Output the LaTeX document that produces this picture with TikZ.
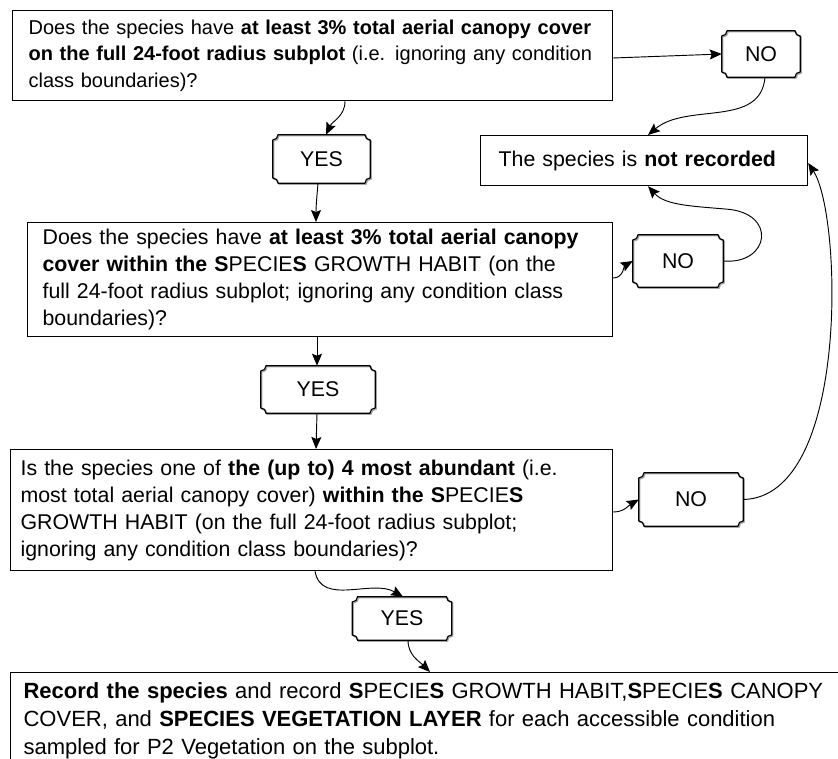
\documentclass[tikz,border=0pt]{standalone}
\usepackage{fontspec}
\setmainfont{Liberation Sans}
\usetikzlibrary{arrows.meta}

\tikzset{
	box/.style={draw, line width=0.9pt, anchor=north west, align=left, inner ysep=0pt, font=\fontsize{16}{20.25}\selectfont},
	tag/.style={inner sep=0pt, font=\fontsize{16}{20}\selectfont},
	tagline/.style={line width=0.9pt},
	tagshade/.style={line width=0.9pt, black!35, transform canvas={shift={(0.8pt,-0.8pt)}}},
	link/.style={line width=0.7pt, -{Stealth[length=9pt,width=7.5pt,inset=1.5pt]}},
}

\newcommand\species{\textbf{S}PECIE\textbf{S}}
\newcommand\tagoutline[2]{%
	\draw[#2] ([xshift=4pt]#1.north west) -- ([xshift=-4pt]#1.north east)
		arc[start angle=180,end angle=270,radius=4pt] -- ([yshift=4pt]#1.south east)
		arc[start angle=90,end angle=180,radius=4pt] -- ([xshift=4pt]#1.south west)
		arc[start angle=0,end angle=90,radius=4pt] -- ([yshift=-4pt]#1.north west)
		arc[start angle=270,end angle=360,radius=4pt] -- cycle;}

\begin{document}
\begin{tikzpicture}[x=0.75pt, y=0.75pt]
	\useasboundingbox (0,0) rectangle (838,-759);
	\clip (0,0) rectangle (838,-759);

	\node (q1) [box, font=\fontsize{15}{20}\selectfont, inner xsep=12pt, text width=426pt, minimum height=67.5pt] at (12,-10) {
		Does the species have \textbf{at least 3\% total aerial canopy cover}\\
		\textbf{on the full 24-foot radius subplot} (i.e. ignoring any condition\\
		class boundaries)?};
	\node (q2) [box, inner xsep=11.25pt, text width=416.25pt, minimum height=85.5pt] at (27,-222) {
		Does the species have \textbf{at least 3\% total aerial canopy}\\
		\textbf{cover within the} \species{} GROWTH HABIT (on the\\
		full 24-foot radius subplot; ignoring any condition class\\
		boundaries)?};
	\node (q3) [box, inner xsep=7.5pt, text width=436.5pt, minimum height=90.75pt] at (10,-449) {
		Is the species one of \textbf{the (up to) 4 most abundant} (i.e.\\
		most total aerial canopy cover) \textbf{within the} \species\\
		GROWTH HABIT (on the full 24-foot radius subplot;\\
		ignoring any condition class boundaries)?};
	\node (rec) [box, font=\fontsize{16.5}{21}\selectfont, inner xsep=9.75pt, text width=610pt, minimum height=72pt] at (10,-672) {
		\textbf{Record the species} and record \species{} GROWTH HABIT,\species{} CANOPY\\
		COVER, and \textbf{SPECIES VEGETATION LAYER} for each accessible condition\\
		sampled for P2 Vegetation on the subplot.};
	\node (skip) [box, inner xsep=13.5pt, text width=218.25pt, minimum height=37.5pt] at (480,-135) {
		The species is \textbf{not recorded}};

	\node (no1) [tag, minimum width=58.5pt, minimum height=34.5pt] at (761,-54) {NO};
	\node (yes1) [tag, minimum width=72.75pt, minimum height=36pt] at (321.5,-159) {YES};
	\node (no2) [tag, minimum width=67.5pt, minimum height=39pt] at (678,-261) {NO};
	\node (yes2) [tag, minimum width=85.5pt, minimum height=35.25pt] at (318,-389.5) {YES};
	\node (no3) [tag, minimum width=78pt, minimum height=39.75pt] at (691,-499.5) {NO};
	\node (yes3) [tag, minimum width=74.25pt, minimum height=32.25pt] at (402,-618.5) {YES};

	\foreach \t in {no1,yes1,no2,yes2,no3,yes3} {
		\tagoutline{\t}{tagshade}
		\tagoutline{\t}{tagline}
	}

	\draw[link] (q1.south -| 345,0) to[out=-90,in=65] (yes1.north -| 326,0);
	\draw[link] (q1.east |- 0,-58) -- (no1.west);
	\draw[link] (no1.south -| 765,0) to[out=-95,in=40] (skip.north -| 648,0);
	\draw[link] (yes1.south -| 318,0) to[out=-95,in=90] (q2.north -| 316,0);
	\draw[link] (q2.east |- 0,-278) to[out=0,in=210] (no2.west);
	\draw[link] (no2.east) .. controls (770,-265) and (778,-212) .. (725,-209)
		.. controls (690,-206) and (665,-205) .. (skip.south -| 648,0);
	\draw[link] (q2.south -| 317,0) -- (yes2.north -| 317,0);
	\draw[link] (yes2.south -| 317,0) -- (q3.north -| 316,0);
	\draw[link] (q3.east |- 0,-512) to[out=0,in=210] (no3.west);
	\draw[link] (no3.east) .. controls (850,-497) and (842,-215) .. (skip.east |- 0,-163);
	\draw[link] (q3.south -| 315,0) to[out=-80,in=150] (yes3.north -| 403,0);
	\draw[link] (yes3.south -| 408,0) to[out=-90,in=135] (rec.north -| 430,0);
\end{tikzpicture}
\end{document}
